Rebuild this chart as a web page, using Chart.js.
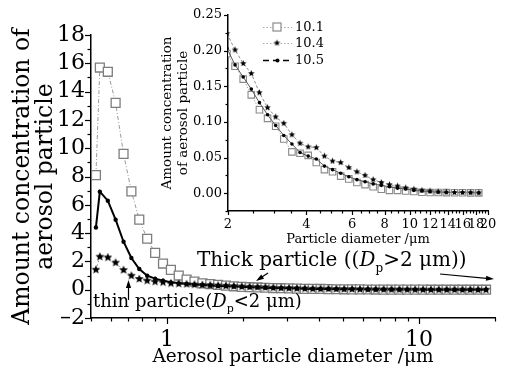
<!DOCTYPE html>
<html>
<head>
<meta charset="utf-8">
<script src="https://cdn.jsdelivr.net/npm/chart.js@4.4.1/dist/chart.umd.min.js"></script>
<style>
  html, body { margin: 0; padding: 0; background: #fff; }
  #wrap { position: relative; width: 506px; height: 370px; }
  #main { position: absolute; left: 0; top: 0; }
  #inset { position: absolute; left: 150px; top: 0; }
</style>
</head>
<body>
<div id="wrap">
  <canvas id="main" width="506" height="370"></canvas>
  <canvas id="inset" width="356" height="250"></canvas>
</div>
<script>
// Particle size channels (aerodynamic diameter, μm)
const diameters = [0.523, 0.542, 0.583, 0.626, 0.673, 0.723, 0.777, 0.835, 0.898, 0.965,
  1.037, 1.114, 1.197, 1.286, 1.382, 1.486, 1.596, 1.715, 1.843, 1.981,
  2.129, 2.288, 2.458, 2.642, 2.839, 3.051, 3.278, 3.523, 3.786, 4.068,
  4.371, 4.698, 5.048, 5.425, 5.829, 6.264, 6.732, 7.234, 7.774, 8.354,
  8.977, 9.647, 10.37, 11.14, 11.97, 12.86, 13.82, 14.86, 15.96, 17.15, 18.43];

// Number concentration per channel for each sampling day
const conc101 = [8.1, 15.7, 15.4, 13.2, 9.6, 6.95, 4.95, 3.6, 2.6, 1.85,
  1.4, 1.0, 0.72, 0.57, 0.45, 0.40, 0.34, 0.29, 0.24, 0.196,
  0.178, 0.160, 0.138, 0.117, 0.105, 0.094, 0.076, 0.058, 0.056, 0.053,
  0.043, 0.033, 0.030, 0.024, 0.020, 0.015, 0.012, 0.009, 0.0056, 0.004,
  0.004, 0.003, 0.0024, 0.0014, 0.001, 0.001, 0.0008, 0.0006, 0.0006, 0.0004, 0.0004];
const conc104 = [1.41, 2.33, 2.28, 1.91, 1.39, 0.99, 0.76, 0.64, 0.57, 0.52,
  0.45, 0.42, 0.39, 0.36, 0.34, 0.32, 0.30, 0.28, 0.25, 0.224,
  0.201, 0.182, 0.168, 0.141, 0.120, 0.107, 0.098, 0.082, 0.070, 0.065,
  0.064, 0.052, 0.045, 0.043, 0.036, 0.030, 0.025, 0.019, 0.015, 0.012,
  0.010, 0.0075, 0.0056, 0.004, 0.003, 0.002, 0.0015, 0.001, 0.001, 0.0008, 0.0005];
const conc105 = [4.4, 6.93, 6.29, 4.95, 3.39, 2.24, 1.46, 0.99, 0.78, 0.64,
  0.52, 0.45, 0.40, 0.36, 0.33, 0.30, 0.27, 0.25, 0.225, 0.203,
  0.180, 0.163, 0.146, 0.127, 0.110, 0.095, 0.081, 0.069, 0.057, 0.052,
  0.048, 0.038, 0.033, 0.028, 0.023, 0.019, 0.016, 0.013, 0.011, 0.009,
  0.007, 0.006, 0.004, 0.003, 0.002, 0.0015, 0.001, 0.001, 0.0008, 0.0006, 0.0005];
const seriesLabels = ['10.1', '10.4', '10.5'];

// Tick values
const mainXLabels = [1, 10];
const mainXMinor = [0.5, 0.6, 0.7, 0.8, 0.9, 2, 3, 4, 5, 6, 7, 8, 9, 20];
const mainYLabels = [-2, 0, 2, 4, 6, 8, 10, 12, 14, 16, 18];
const mainYMinor = [-1, 1, 3, 5, 7, 9, 11, 13, 15, 17];
const insetXLabels = [2, 4, 6, 8, 10, 12, 14, 16, 18, 20];
const insetXMinor = [2.5, 3, 3.5, 4.5, 5, 5.5, 6.5, 7, 7.5, 8.5, 9, 9.5, 10.5, 11, 11.5,
  12.5, 13, 13.5, 14.5, 15, 15.5, 16.5, 17, 17.5, 18.5, 19, 19.5];
const insetYLabels = [0, 0.05, 0.10, 0.15, 0.20, 0.25];
const insetYMinor = [-0.025, 0.025, 0.075, 0.125, 0.175, 0.225];

const FAMILY = '"DejaVu Serif", "Liberation Serif", serif';
Chart.defaults.font.family = FAMILY;
Chart.defaults.color = '#000';

const toPoints = arr => diameters.map((d, i) => ({ x: d, y: arr[i] }));

// filled five-pointed star marker
function starMarker(r, color) {
  const s = Math.ceil(r * 2 + 2);
  const c = document.createElement('canvas');
  c.width = s; c.height = s;
  const g = c.getContext('2d');
  g.fillStyle = color;
  g.beginPath();
  for (let i = 0; i < 10; i++) {
    const a = -Math.PI / 2 + i * Math.PI / 5;
    const rr = i % 2 === 0 ? r : r * 0.45;
    g.lineTo(s / 2 + rr * Math.cos(a), s / 2 + rr * Math.sin(a));
  }
  g.closePath();
  g.fill();
  return c;
}
const starBig = starMarker(4.6, '#000');
const starSmall = starMarker(3.4, '#000');

// outward tick marks, long for labelled values and short for minor ones
function tickPlugin(sets) {
  return {
    id: 'outTicks',
    afterDraw(chart) {
      const ctx = chart.ctx;
      ctx.save();
      ctx.strokeStyle = '#000';
      ctx.lineWidth = 1.2;
      sets.forEach(s => {
        const sc = chart.scales[s.axis];
        s.values.forEach(v => {
          const p = Math.round(sc.getPixelForValue(v)) + 0.5;
          ctx.beginPath();
          if (s.axis === 'x') {
            ctx.moveTo(p, sc.top);
            ctx.lineTo(p, sc.top + s.len);
          } else {
            ctx.moveTo(sc.right, p);
            ctx.lineTo(sc.right - s.len, p);
          }
          ctx.stroke();
        });
      });
      ctx.restore();
    }
  };
}

function arrow(ctx, x1, y1, x2, y2) {
  const a = Math.atan2(y2 - y1, x2 - x1);
  const L = 8, W = 2.6;
  ctx.beginPath();
  ctx.moveTo(x1, y1);
  ctx.lineTo(x2 - L * 0.6 * Math.cos(a), y2 - L * 0.6 * Math.sin(a));
  ctx.stroke();
  ctx.beginPath();
  ctx.moveTo(x2, y2);
  ctx.lineTo(x2 - L * Math.cos(a) + W * Math.sin(a), y2 - L * Math.sin(a) - W * Math.cos(a));
  ctx.lineTo(x2 - L * Math.cos(a) - W * Math.sin(a), y2 - L * Math.sin(a) + W * Math.cos(a));
  ctx.closePath();
  ctx.fill();
}

function richText(ctx, x, y, size, parts) {
  parts.forEach(p => {
    let sz = size, dy = 0, style = '';
    if (p.i) style = 'italic ';
    if (p.sub) { sz = Math.round(size * 0.62); dy = size * 0.3; }
    ctx.font = style + sz + 'px ' + FAMILY;
    ctx.fillText(p.t, x, y + dy);
    x += ctx.measureText(p.t).width;
  });
}

// size-range annotations on the main plot
const annotations = {
  id: 'sizeNotes',
  afterDraw(chart) {
    const ctx = chart.ctx;
    ctx.save();
    ctx.fillStyle = '#000';
    ctx.strokeStyle = '#000';
    ctx.lineWidth = 1.2;
    ctx.textBaseline = 'alphabetic';
    richText(ctx, 197, 266, 20, [
      { t: 'Thick particle ((' }, { t: 'D', i: true }, { t: 'p', sub: true }, { t: '>2 μm))' }
    ]);
    richText(ctx, 93, 307, 18, [
      { t: 'thin particle(' }, { t: 'D', i: true }, { t: 'p', sub: true }, { t: '<2 μm)' }
    ]);
    arrow(ctx, 128.5, 300, 128.5, 280);
    arrow(ctx, 268, 273, 256, 281);
    arrow(ctx, 440, 274, 494, 279);
    ctx.restore();
  }
};

const mainChart = new Chart(document.getElementById('main'), {
  type: 'scatter',
  data: {
    datasets: [
      {
        label: seriesLabels[1], data: toPoints(conc104), order: 0, showLine: true,
        borderColor: '#7a7a7a', borderWidth: 1, borderDash: [1.5, 2.5],
        pointStyle: starBig, pointRadius: 4
      },
      {
        label: seriesLabels[2], data: toPoints(conc105), order: 1, showLine: true,
        borderColor: '#000', borderWidth: 2,
        pointStyle: 'circle', pointRadius: 2.2, pointBackgroundColor: '#000', pointBorderColor: '#000', pointBorderWidth: 0
      },
      {
        label: seriesLabels[0], data: toPoints(conc101), order: 2, showLine: true,
        borderColor: '#9a9a9a', borderWidth: 1, borderDash: [4, 2, 1, 2],
        pointStyle: 'rect', pointRadius: 6.3, pointBackgroundColor: '#fff', pointBorderColor: '#7d7d7d', pointBorderWidth: 1.3
      }
    ]
  },
  options: {
    responsive: false, animation: false, devicePixelRatio: 1,
    layout: { padding: { top: 35, right: 11, left: 0, bottom: 0 } },
    plugins: { legend: { display: false }, tooltip: { enabled: false } },
    scales: {
      x: {
        type: 'logarithmic', min: 0.5, max: 20,
        afterBuildTicks: s => { s.ticks = mainXLabels.map(v => ({ value: v })); },
        afterFit: s => { s.height = 52; },
        grid: { display: false, drawTicks: false },
        border: { color: '#000', width: 1.5 },
        ticks: { font: { size: 22 }, color: '#000', padding: 9, maxRotation: 0, autoSkip: false, callback: v => String(v) },
        title: { display: true, text: 'Aerosol particle diameter /μm', font: { size: 18.5 }, color: '#000', padding: { top: 0, bottom: 2 } }
      },
      y: {
        min: -2, max: 18,
        afterBuildTicks: s => { s.ticks = mainYLabels.map(v => ({ value: v })); },
        afterFit: s => { s.width = 91; },
        grid: { display: false, drawTicks: false },
        border: { color: '#000', width: 1.5 },
        ticks: { font: { size: 22 }, color: '#000', padding: 6, autoSkip: false, callback: v => (v < 0 ? '\u2013' + Math.abs(v) : String(v)) },
        title: { display: true, text: ['Amount concentration of', 'aerosol particle'], font: { size: 23.5, lineHeight: 0.95 }, color: '#000', padding: { top: 12, bottom: 0 } }
      }
    }
  },
  plugins: [
    tickPlugin([
      { axis: 'x', values: mainXLabels, len: 6 }, { axis: 'x', values: mainXMinor, len: 3.5 },
      { axis: 'y', values: mainYLabels, len: 6 }, { axis: 'y', values: mainYMinor, len: 3.5 }
    ]),
    annotations
  ]
});

// legend drawn inside the inset
const insetLegend = {
  id: 'insetLegend',
  afterDraw(chart) {
    const ctx = chart.ctx;
    const rows = [
      { y: 27, dash: [1.5, 2], color: '#aaa', mark: 'rect' },
      { y: 43, dash: [1.5, 2], color: '#aaa', mark: 'star' },
      { y: 60, dash: [6, 4], color: '#000', mark: 'dot' }
    ];
    ctx.save();
    rows.forEach((r, i) => {
      ctx.strokeStyle = r.color;
      ctx.lineWidth = r.mark === 'dot' ? 1.6 : 1;
      ctx.setLineDash(r.dash);
      ctx.beginPath();
      ctx.moveTo(113, r.y + 0.5);
      ctx.lineTo(142, r.y + 0.5);
      ctx.stroke();
      ctx.setLineDash([]);
      if (r.mark === 'rect') {
        ctx.fillStyle = '#fff';
        ctx.fillRect(123, r.y - 4, 8, 8);
        ctx.strokeStyle = '#8a8a8a';
        ctx.lineWidth = 1.2;
        ctx.strokeRect(123, r.y - 4, 8, 8);
      } else if (r.mark === 'star') {
        ctx.drawImage(starSmall, 127 - starSmall.width / 2, r.y - starSmall.height / 2);
      } else {
        ctx.fillStyle = '#000';
        ctx.beginPath();
        ctx.arc(127.5, r.y + 0.5, 2, 0, Math.PI * 2);
        ctx.fill();
      }
      ctx.fillStyle = '#000';
      ctx.font = '13px ' + FAMILY;
      ctx.textBaseline = 'middle';
      ctx.fillText(seriesLabels[i], 145, r.y + 1);
    });
    ctx.restore();
  }
};

const insetChart = new Chart(document.getElementById('inset'), {
  type: 'scatter',
  data: {
    datasets: [
      {
        label: seriesLabels[1], data: toPoints(conc104), order: 0, showLine: true,
        borderColor: '#8c8c8c', borderWidth: 1, borderDash: [3, 2],
        pointStyle: starSmall, pointRadius: 3
      },
      {
        label: seriesLabels[2], data: toPoints(conc105), order: 1, showLine: true,
        borderColor: '#5a5a5a', borderWidth: 1,
        pointStyle: 'circle', pointRadius: 1.8, pointBackgroundColor: '#000', pointBorderColor: '#000', pointBorderWidth: 0
      },
      {
        label: seriesLabels[0], data: toPoints(conc101), order: 2, showLine: true,
        borderColor: '#a8a8a8', borderWidth: 1, borderDash: [1.5, 1.5],
        pointStyle: 'rect', pointRadius: 4.6, pointBackgroundColor: '#fff', pointBorderColor: '#8a8a8a', pointBorderWidth: 1.1
      }
    ]
  },
  options: {
    responsive: false, animation: false, devicePixelRatio: 1,
    layout: { padding: { top: 15, right: 18, left: 0, bottom: 0 } },
    plugins: { legend: { display: false }, tooltip: { enabled: false } },
    scales: {
      x: {
        type: 'logarithmic', min: 2, max: 20,
        afterBuildTicks: s => { s.ticks = insetXLabels.map(v => ({ value: v })); },
        afterFit: s => { s.height = 39; },
        grid: { display: false, drawTicks: false },
        border: { color: '#000', width: 1.5 },
        ticks: { font: { size: 13 }, color: '#000', padding: 6, maxRotation: 0, autoSkip: false, callback: v => String(v) },
        title: { display: true, text: 'Particle diameter /μm', font: { size: 13 }, color: '#000', padding: { top: 0, bottom: 3 } }
      },
      y: {
        min: -0.025, max: 0.25,
        afterBuildTicks: s => { s.ticks = insetYLabels.map(v => ({ value: v })); },
        afterFit: s => { s.width = 78; },
        grid: { display: false, drawTicks: false },
        border: { color: '#000', width: 1.5 },
        ticks: { font: { size: 13 }, color: '#000', padding: 6, autoSkip: false, callback: v => v.toFixed(2) },
        title: { display: true, text: ['Amount concentration', 'of aerosol particle'], font: { size: 13.5 }, color: '#000', padding: { top: 9, bottom: 0 } }
      }
    }
  },
  plugins: [
    tickPlugin([
      { axis: 'x', values: insetXLabels, len: 4 }, { axis: 'x', values: insetXMinor, len: 2.5 },
      { axis: 'y', values: insetYLabels, len: 4 }, { axis: 'y', values: insetYMinor, len: 2.5 }
    ]),
    insetLegend
  ]
});
</script>
</body>
</html>
